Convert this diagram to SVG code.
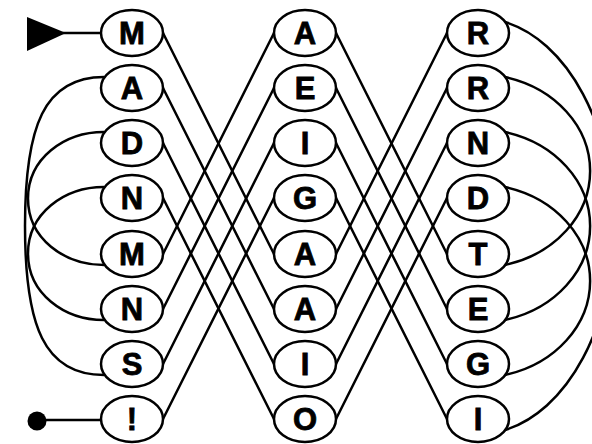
<svg xmlns="http://www.w3.org/2000/svg" width="592" height="444" viewBox="0 0 592 444">
<style>
.bg{fill:#fff}
.ln{fill:none;stroke:#000;stroke-width:2.5;stroke-linecap:round}
.ov{fill:#fff;stroke:#000;stroke-width:2.5}
.tx{font-family:"Liberation Sans","DejaVu Sans",Arial,sans-serif;font-weight:bold;font-size:31px;text-anchor:middle;fill:#000;stroke:#000;stroke-width:0.8}
</style>
<rect class="bg" x="0" y="0" width="592" height="444"/>
<g id="connectors">
<polygon points="27,17 27,51 66,33" fill="#000"/>
<line class="ln" x1="63" y1="33" x2="101" y2="33"/>
<circle cx="37" cy="421" r="9.5" fill="#000"/>
<line class="ln" x1="40" y1="420" x2="101" y2="420"/>
<line class="ln" x1="163" y1="33" x2="274" y2="254"/>
<line class="ln" x1="163" y1="88" x2="274" y2="309"/>
<line class="ln" x1="163" y1="143" x2="274" y2="364"/>
<line class="ln" x1="163" y1="198" x2="274" y2="419"/>
<line class="ln" x1="163" y1="254" x2="274" y2="33"/>
<line class="ln" x1="163" y1="309" x2="274" y2="88"/>
<line class="ln" x1="163" y1="364" x2="274" y2="143"/>
<line class="ln" x1="163" y1="419" x2="274" y2="198"/>
<line class="ln" x1="336" y1="33" x2="447" y2="254"/>
<line class="ln" x1="336" y1="88" x2="447" y2="309"/>
<line class="ln" x1="336" y1="143" x2="447" y2="364"/>
<line class="ln" x1="336" y1="198" x2="447" y2="419"/>
<line class="ln" x1="336" y1="254" x2="447" y2="33"/>
<line class="ln" x1="336" y1="309" x2="447" y2="88"/>
<line class="ln" x1="336" y1="364" x2="447" y2="143"/>
<line class="ln" x1="336" y1="419" x2="447" y2="198"/>
<path class="ln" d="M104,77 C44,77 25,126 25,226 C25,326 44,375 104,375"/>
<path class="ln" d="M104,132 C64,132 28,158.5 28,198.5 C28,238.5 64,265 104,265"/>
<path class="ln" d="M104,187 C64,187 28,213.5 28,253.5 C28,293.5 64,320 104,320"/>
<path class="ln" d="M505,22 A135,208 0 0,1 505,430"/>
<path class="ln" d="M505,77 A113,97 0 0,1 505,265"/>
<path class="ln" d="M505,132 A113,97 0 0,1 505,320"/>
<path class="ln" d="M505,187 A113,97 0 0,1 505,375"/>
</g>
<g id="L0"><ellipse class="ov" cx="132" cy="33" rx="31" ry="23"/><text class="tx" x="132" y="44">M</text></g>
<g id="L1"><ellipse class="ov" cx="132" cy="88" rx="31" ry="23"/><text class="tx" x="132" y="99">A</text></g>
<g id="L2"><ellipse class="ov" cx="132" cy="143" rx="31" ry="23"/><text class="tx" x="132" y="154">D</text></g>
<g id="L3"><ellipse class="ov" cx="132" cy="198" rx="31" ry="23"/><text class="tx" x="132" y="209">N</text></g>
<g id="L4"><ellipse class="ov" cx="132" cy="254" rx="31" ry="23"/><text class="tx" x="132" y="265">M</text></g>
<g id="L5"><ellipse class="ov" cx="132" cy="309" rx="31" ry="23"/><text class="tx" x="132" y="320">N</text></g>
<g id="L6"><ellipse class="ov" cx="132" cy="364" rx="31" ry="23"/><text class="tx" x="132" y="375">S</text></g>
<g id="L7"><ellipse class="ov" cx="132" cy="419" rx="31" ry="23"/><text class="tx" x="132" y="430">!</text></g>
<g id="M0"><ellipse class="ov" cx="305" cy="33" rx="31" ry="23"/><text class="tx" x="305" y="44">A</text></g>
<g id="M1"><ellipse class="ov" cx="305" cy="88" rx="31" ry="23"/><text class="tx" x="305" y="99">E</text></g>
<g id="M2"><ellipse class="ov" cx="305" cy="143" rx="31" ry="23"/><text class="tx" x="305" y="154">I</text></g>
<g id="M3"><ellipse class="ov" cx="305" cy="198" rx="31" ry="23"/><text class="tx" x="305" y="209">G</text></g>
<g id="M4"><ellipse class="ov" cx="305" cy="254" rx="31" ry="23"/><text class="tx" x="305" y="265">A</text></g>
<g id="M5"><ellipse class="ov" cx="305" cy="309" rx="31" ry="23"/><text class="tx" x="305" y="320">A</text></g>
<g id="M6"><ellipse class="ov" cx="305" cy="364" rx="31" ry="23"/><text class="tx" x="305" y="375">I</text></g>
<g id="M7"><ellipse class="ov" cx="305" cy="419" rx="31" ry="23"/><text class="tx" x="305" y="430">O</text></g>
<g id="R0"><ellipse class="ov" cx="478" cy="33" rx="31" ry="23"/><text class="tx" x="478" y="44">R</text></g>
<g id="R1"><ellipse class="ov" cx="478" cy="88" rx="31" ry="23"/><text class="tx" x="478" y="99">R</text></g>
<g id="R2"><ellipse class="ov" cx="478" cy="143" rx="31" ry="23"/><text class="tx" x="478" y="154">N</text></g>
<g id="R3"><ellipse class="ov" cx="478" cy="198" rx="31" ry="23"/><text class="tx" x="478" y="209">D</text></g>
<g id="R4"><ellipse class="ov" cx="478" cy="254" rx="31" ry="23"/><text class="tx" x="478" y="265">T</text></g>
<g id="R5"><ellipse class="ov" cx="478" cy="309" rx="31" ry="23"/><text class="tx" x="478" y="320">E</text></g>
<g id="R6"><ellipse class="ov" cx="478" cy="364" rx="31" ry="23"/><text class="tx" x="478" y="375">G</text></g>
<g id="R7"><ellipse class="ov" cx="478" cy="419" rx="31" ry="23"/><text class="tx" x="478" y="430">I</text></g>
</svg>
